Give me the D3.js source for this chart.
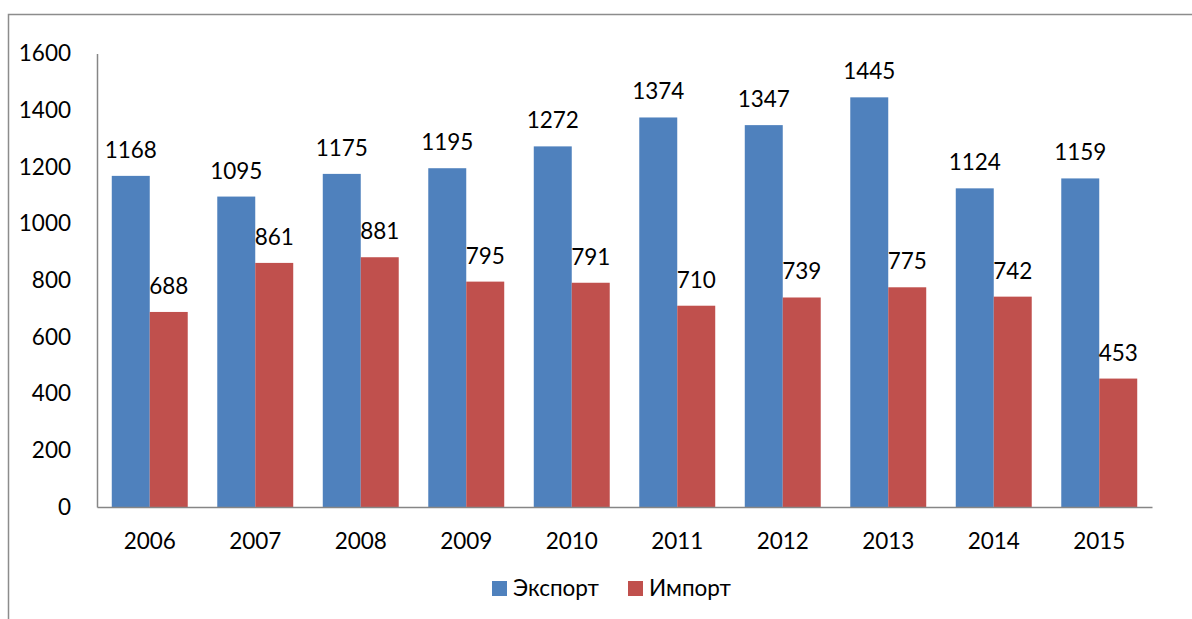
<!DOCTYPE html>
<html>
<head>
<meta charset="utf-8">
<script src="https://cdn.jsdelivr.net/npm/d3@7"></script>
<style>
	body { margin: 0; background: #fff; }
	text { font-family: Lato, "Open Sans", sans-serif; fill: #000; }
</style>
</head>
<body>
<svg id="chart" width="1192" height="619"></svg>
<script>
'use strict';

var years = ["2006", "2007", "2008", "2009", "2010", "2011", "2012", "2013", "2014", "2015"];
var exportValues = [1168, 1095, 1175, 1195, 1272, 1374, 1347, 1445, 1124, 1159];
var importValues = [688, 861, 881, 795, 791, 710, 739, 775, 742, 453];
var seriesNames = ["Экспорт", "Импорт"];
var seriesColors = ["#4F81BD", "#C0504D"];
var yTicks = [0, 200, 400, 600, 800, 1000, 1200, 1400, 1600];

var FONT_SIZE = 22.5;
var plot = { left: 97, right: 1152, top: 53.4, bottom: 507 };

var svg = d3.select("#chart");

// outer frame (top + left edges visible)
svg.append("path")
	.attr("d", "M8.5,619 L8.5,14.5 L1192,14.5")
	.attr("fill", "none")
	.attr("stroke", "#8c8c8c")
	.attr("stroke-width", 1.5);

var x0 = d3.scaleBand()
	.domain(years)
	.range([plot.left, plot.right])
	.paddingInner(0.28)
	.paddingOuter(0.14);

var x1 = d3.scaleBand()
	.domain([0, 1])
	.range([0, x0.bandwidth()]);

var y = d3.scaleLinear()
	.domain([0, 1600])
	.range([plot.bottom, plot.top]);

var rows = years.map(function (yr, i) {
	return { year: yr, values: [exportValues[i], importValues[i]] };
});

var groups = svg.selectAll(".group")
	.data(rows)
	.enter()
	.append("g")
	.attr("class", "group")
	.attr("transform", function (d) { return "translate(" + x0(d.year) + ",0)"; });

var bars = groups.selectAll(".bar")
	.data(function (d) { return d.values.map(function (v, k) { return { k: k, v: v }; }); })
	.enter();

bars.append("rect")
	.attr("x", function (d) { return x1(d.k); })
	.attr("y", function (d) { return y(d.v); })
	.attr("width", x1.bandwidth())
	.attr("height", function (d) { return y(0) - y(d.v); })
	.attr("fill", function (d) { return seriesColors[d.k]; });

bars.append("text")
	.attr("x", function (d) { return x1(d.k) + x1.bandwidth() / 2; })
	.attr("y", function (d) { return y(d.v) - 18; })
	.attr("text-anchor", "middle")
	.style("font-size", FONT_SIZE + "px")
	.text(function (d) { return d.v; });

// y axis
var yAxis = svg.append("g")
	.attr("transform", "translate(" + plot.left + ",0)")
	.call(d3.axisLeft(y).tickValues(yTicks).tickFormat(d3.format("d")).tickSize(0).tickPadding(26));
yAxis.select(".domain").attr("stroke", "#868686").attr("stroke-width", 1.5);
yAxis.selectAll("text")
	.style("font-size", FONT_SIZE + "px")
	.style("font-family", "Lato, sans-serif")
	.attr("fill", "#000");

// x axis
var xAxis = svg.append("g")
	.attr("transform", "translate(0," + plot.bottom + ")")
	.call(d3.axisBottom(x0).tickSize(0).tickPadding(26).tickSizeOuter(0));
xAxis.select(".domain").attr("stroke", "#868686").attr("stroke-width", 1.5);
xAxis.selectAll("text")
	.style("font-size", FONT_SIZE + "px")
	.style("font-family", "Lato, sans-serif")
	.attr("fill", "#000");

// legend
var legendX = [492, 628];
var legend = svg.selectAll(".legend")
	.data(seriesNames)
	.enter()
	.append("g")
	.attr("class", "legend")
	.attr("transform", function (d, i) { return "translate(" + legendX[i] + ",581)"; });

legend.append("rect")
	.attr("width", 15)
	.attr("height", 15)
	.attr("fill", function (d, i) { return seriesColors[i]; });

legend.append("text")
	.attr("x", 21)
	.attr("y", 7.5)
	.attr("dy", "0.35em")
	.style("font-size", FONT_SIZE + "px")
	.text(function (d) { return d; });
</script>
</body>
</html>
